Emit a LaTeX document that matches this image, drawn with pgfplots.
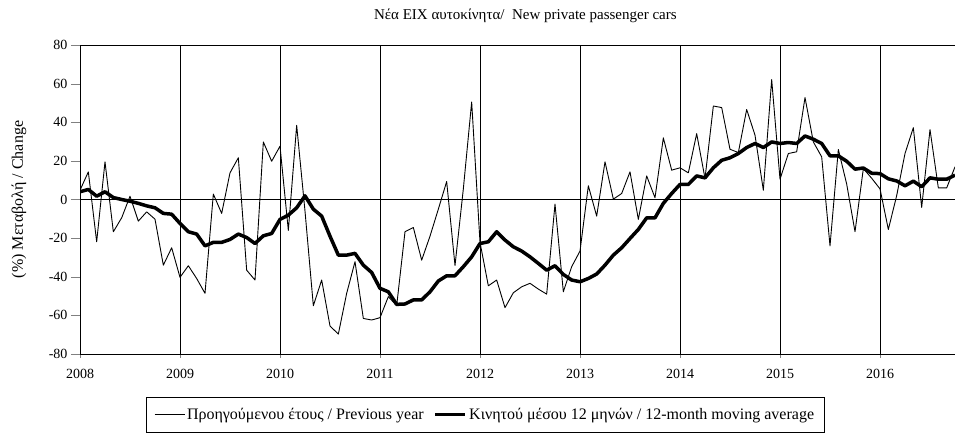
\documentclass[border=0pt]{standalone}
\usepackage{fontspec}
\setmainfont{Liberation Serif}
\usepackage{pgfplots}
\usepackage{pgfplotstable}
\pgfplotsset{compat=1.18}
\pgfplotstableread{
idx prev ma
0 4.8 4
1 14.3 5.2
2 -21.9 1.7
3 19.5 4
4 -16.7 1
5 -9.5 0
6 1.7 -0.9
7 -11.2 -2
8 -6.4 -3.3
9 -10.2 -4.3
10 -34 -7.2
11 -25 -7.6
12 -40.3 -12.4
13 -34.3 -16.7
14 -40.9 -17.9
15 -48.6 -24
16 2.8 -22.2
17 -7.2 -22.2
18 13.8 -20.7
19 21.6 -17.9
20 -36.6 -19.7
21 -41.7 -22.8
22 29.8 -18.8
23 19.8 -17.6
24 27.6 -10.3
25 -16 -8.1
26 38.4 -4.3
27 -6 1.9
28 -55 -5
29 -41.7 -8.6
30 -65.5 -19
31 -69.7 -28.8
32 -48.6 -28.8
33 -32.2 -27.9
34 -61.6 -34
35 -62.4 -37.8
36 -61.2 -46
37 -50.3 -47.8
38 -55 -54.3
39 -16.7 -54.1
40 -14.5 -52
41 -31.4 -52
42 -19 -47.8
43 -5 -42.2
44 9.3 -39.5
45 -34.2 -39.5
46 5.5 -34.8
47 50.5 -29.7
48 -22.2 -22.8
49 -44.7 -21.9
50 -41.7 -16.7
51 -56 -21
52 -48.3 -24.5
53 -45.2 -26.7
54 -43.4 -29.7
55 -46.4 -33.1
56 -49 -36.6
57 -2.4 -34.3
58 -47.8 -38.8
59 -34.8 -41.7
60 -26.7 -42.6
61 7.1 -40.9
62 -8.6 -38.6
63 19.5 -34
64 0.2 -28.8
65 3.1 -25
66 14.3 -20.2
67 -10.3 -15.5
68 12.2 -9.5
69 0.9 -9.5
70 31.9 -2
71 15.2 3.1
72 16.4 7.8
73 13.8 7.8
74 34.1 12.2
75 10.9 11.2
76 48.4 16.4
77 47.6 20.3
78 26 21.6
79 24.3 23.8
80 46.6 26.9
81 33.3 29
82 4.8 26.9
83 62.1 29.8
84 10.5 29
85 23.8 29.5
86 24.7 29
87 52.8 32.9
88 29.8 31.2
89 22.1 29
90 -24 22.6
91 25.9 22.6
92 8 19.8
93 -16.7 15.7
94 16 16.3
95 11 13.6
96 5.5 13.4
97 -15.5 10.7
98 2 9.6
99 23.8 7.1
100 37.2 9.5
101 -4.1 6.6
102 36.2 11.2
103 6 10.5
104 6 10.5
105 16.9 12.6
}\datatable
\begin{document}
\begin{tikzpicture}[font=\fontsize{14}{16}\selectfont]
\useasboundingbox (0,0) rectangle (955pt,435pt);
\begin{axis}[
  at={(80pt,81pt)}, anchor=south west,
  scale only axis, width=875pt, height=309pt,
  xmin=0, xmax=105, ymin=-80, ymax=80,
  xtick={0,12,24,36,48,60,72,84,96},
  xticklabels={2008,2009,2010,2011,2012,2013,2014,2015,2016},
  ytick={-80,-60,-40,-20,0,20,40,60,80},
  tick align=outside, xtick pos=bottom, ytick pos=left,
  major tick length=9pt,
  xtick style={/pgfplots/major tick length=4pt},
  xticklabel style={yshift=-3pt},
  xmajorgrids, grid style={black, line width=0.8pt},
  axis line style={line width=0.8pt},
  /pgf/number format/assume math mode=true,
  title={Νέα ΕΙΧ αυτοκίνητα/\ \ New private passenger cars},
  title style={at={(0.509,1.074)}, anchor=center, font=\fontsize{15}{17}\selectfont},
  ylabel={(\%) Μεταβολή / Change},
  ylabel style={at={(axis description cs:-0.0697,0.5)}, anchor=center, font=\fontsize{16}{18}\selectfont},
  legend style={at={(0.463,-0.139)}, anchor=north, legend columns=2,
    draw=black, line width=0.8pt, inner xsep=8pt, inner ysep=9pt,
    font=\fontsize{16}{18}\selectfont,
    /tikz/every even column/.append style={column sep=8pt}},
  legend image code/.code={\draw[#1] (0pt,0pt) -- (30pt,0pt);},
]
\draw[black, line width=0.8pt] (axis cs:0,0) -- (axis cs:105,0);
\addplot[black, line width=0.9pt, line join=round] table[x=idx, y=prev]{\datatable};
\addlegendentry{Προηγούμενου έτους / Previous year}
\addplot[black, line width=3.5pt, line join=round] table[x=idx, y=ma]{\datatable};
\addlegendentry{Κινητού μέσου 12 μηνών / 12-month moving average}
\draw[black, line width=1.6pt] (rel axis cs:0,0) -- (rel axis cs:0,1);
\end{axis}
\end{tikzpicture}
\end{document}
